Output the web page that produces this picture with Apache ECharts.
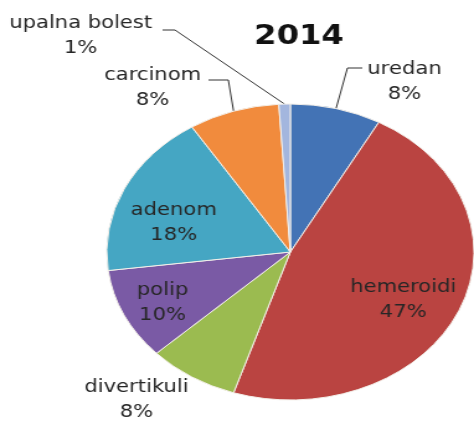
<!DOCTYPE html>
<html><head><meta charset="utf-8">
<script src="https://cdn.jsdelivr.net/npm/echarts@6/dist/echarts.min.js"></script>
<style>
html,body{margin:0;padding:0;background:#fff;overflow:hidden;width:474px;height:428px}
#c{width:382px;height:428px;transform:scaleX(1.2408);transform-origin:0 0;}
</style>
</head><body><div id="c"></div>
<script>
const chartTitle = '2014';
const categories = ['uredan', 'hemeroidi', 'divertikuli', 'polip', 'adenom', 'carcinom', 'upalna bolest'];
const values = [8, 47, 8, 10, 18, 8, 1];

const sliceColors = ['#4373B5', '#BA4441', '#9BBB50', '#7A5AA5', '#45A6C3', '#F18B3D', '#A3B6DE'];
// label anchor positions (unscaled px) and leader line bends
const labelPos = [
  {x: 326, y: 82, line: [[280, 68], [292, 68]]},
  {x: 325, y: 300},
  {x: 110, y: 400},
  {x: 131, y: 303},
  {x: 140, y: 223},
  {x: 123, y: 88, line: [[184, 80], [168, 80]]},
  {x: 65, y: 36, line: [[141, 30], [131, 30]]}
];

const chart = echarts.init(document.getElementById('c'));
chart.setOption({
  animation: false,
  backgroundColor: '#fff',
  title: {
    text: chartTitle, left: 236, top: 19, textAlign: 'center',
    textStyle: {fontFamily: 'DejaVu Sans', fontWeight: 'bold', fontSize: 26, color: '#111'}
  },
  series: [{
    type: 'pie',
    center: [234, 252],
    radius: 148,
    startAngle: 90,
    clockwise: true,
    avoidLabelOverlap: false,
    itemStyle: {borderColor: '#f4f0ea', borderWidth: 1},
    label: {
      show: true,
      formatter: '{b}\n{c}%',
      fontFamily: 'DejaVu Sans',
      fontSize: 17,
      lineHeight: 25,
      color: '#262626',
      align: 'center'
    },
    labelLine: {show: true, lineStyle: {color: '#333', width: 1}},
    labelLayout: function (p) {
      const lp = labelPos[p.dataIndex];
      const out = {x: lp.x, y: lp.y, align: 'center', verticalAlign: 'middle'};
      if (lp.line && p.labelLinePoints) {
        out.labelLinePoints = [p.labelLinePoints[0], lp.line[0], lp.line[1]];
      }
      return out;
    },
    data: categories.map((name, i) => ({
      name: name,
      value: values[i],
      itemStyle: {color: sliceColors[i]},
      labelLine: {show: !!labelPos[i].line}
    }))
  }]
});
</script>
</body></html>
